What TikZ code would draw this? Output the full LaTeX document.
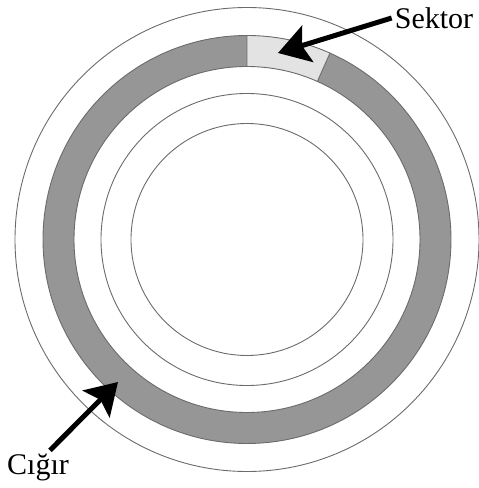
\documentclass[tikz,border=0pt]{standalone}
\usepackage{fontspec}
\setmainfont{Liberation Serif}
\usetikzlibrary{arrows.meta}
\definecolor{bandgray}{gray}{0.59}
\definecolor{sectorgray}{gray}{0.89}
\definecolor{linegray}{gray}{0.42}
\tikzset{ring/.style={draw=linegray,line width=0.9pt},
  pointer/.style={->,line width=5pt},
  lbl/.style={font=\fontsize{30}{33}\selectfont,inner sep=3pt}}

\begin{document}
\begin{tikzpicture}[x=1pt,y=1pt,>={Stealth[length=31pt,width=38pt,inset=6pt]}]
\useasboundingbox (0,0) rectangle (479,488);
\coordinate (o) at (247,248.5);
\begin{scope}[shift={(o)}]
% track and sector
\fill[bandgray,even odd rule] (0,0) circle (204) (0,0) circle (173);
\fill[sectorgray] (66:173) -- (66:204) arc[start angle=66,end angle=90,radius=204]
  -- (90:173) arc[start angle=90,end angle=66,radius=173] -- cycle;
\draw[ring] (0,0) circle (232) (0,0) circle (204) (0,0) circle (173)
  (0,0) circle (146) (0,0) circle (116);
\draw[ring] (66:173) -- (66:204) (90:173) -- (90:204);
\end{scope}
\node[lbl] (sektor) at (434,470) {Sektor};
\node[lbl] (cigir) at (38,21) {Cığır};
\coordinate (sektor tip) at (278,435);
\coordinate (cigir tip) at (118,106);
\draw[pointer] (sektor.west) -- (sektor tip);
\draw[pointer] ([xshift=12pt]cigir.north) -- (cigir tip);
\end{tikzpicture}
\end{document}
